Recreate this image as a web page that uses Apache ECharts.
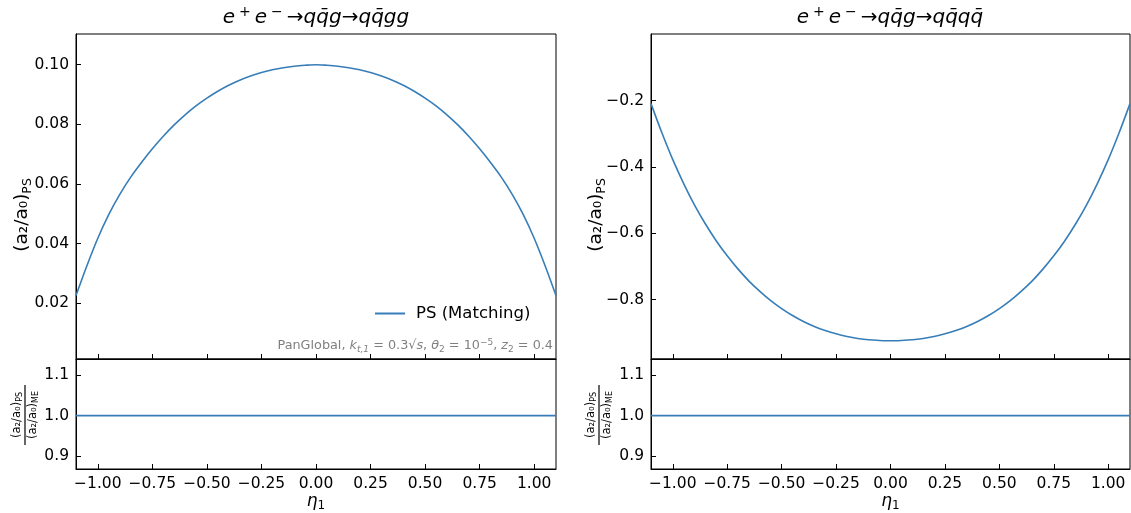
<!DOCTYPE html>
<html>
<head>
<meta charset="utf-8">
<script src="https://cdn.jsdelivr.net/npm/echarts@6/dist/echarts.min.js"></script>
<style>html,body{margin:0;padding:0;background:#fff;}#c{width:1131px;height:513px;}</style>
</head>
<body>
<div id="c"></div>
<script>
const eta = [-1.1,-1.05,-1.0,-0.95,-0.9,-0.85,-0.8,-0.75,-0.7,-0.65,-0.6,-0.55,-0.5,-0.45,-0.4,-0.35,-0.3,-0.25,-0.2,-0.15,-0.1,-0.05,0.0,0.05,0.1,0.15,0.2,0.25,0.3,0.35,0.4,0.45,0.5,0.55,0.6,0.65,0.7,0.75,0.8,0.85,0.9,0.95,1.0,1.05,1.1];
const psGG = [0.0226,0.0326,0.0418,0.0497,0.0564,0.0622,0.0672,0.0718,0.0760,0.0798,0.0832,0.0862,0.0888,0.0911,0.0931,0.0948,0.0962,0.0974,0.0983,0.0990,0.0995,0.0998,0.1000,0.0998,0.0995,0.0990,0.0983,0.0974,0.0962,0.0948,0.0931,0.0911,0.0888,0.0862,0.0832,0.0798,0.0760,0.0718,0.0672,0.0622,0.0564,0.0497,0.0418,0.0326,0.0226];
const psQQ = [-0.209,-0.297,-0.378,-0.450,-0.515,-0.572,-0.623,-0.668,-0.708,-0.744,-0.775,-0.803,-0.827,-0.848,-0.866,-0.881,-0.893,-0.903,-0.911,-0.917,-0.921,-0.923,-0.924,-0.923,-0.921,-0.917,-0.911,-0.903,-0.893,-0.881,-0.866,-0.848,-0.827,-0.803,-0.775,-0.744,-0.708,-0.668,-0.623,-0.572,-0.515,-0.450,-0.378,-0.297,-0.209];
const ratioGG = [1,1,1,1,1,1,1,1,1,1,1,1,1,1,1,1,1,1,1,1,1,1,1,1,1,1,1,1,1,1,1,1,1,1,1,1,1,1,1,1,1,1,1,1,1];
const ratioQQ = [1,1,1,1,1,1,1,1,1,1,1,1,1,1,1,1,1,1,1,1,1,1,1,1,1,1,1,1,1,1,1,1,1,1,1,1,1,1,1,1,1,1,1,1,1];
const xTicks = [-1.0,-0.75,-0.5,-0.25,0.0,0.25,0.5,0.75,1.0];
const yTicksGG = [0.02,0.04,0.06,0.08,0.10];
const yTicksQQ = [-0.8,-0.6,-0.4,-0.2];
const yTicksRatio = [0.9,1.0,1.1];

const FONT = 'DejaVu Sans';
const BLUE = '#377eb8';
const pair = a => eta.map((x,i)=>[x,a[i]]);
const fmt = d => v => v.toFixed(d).replace('-', '\u2212');

function xAxis(gi, showLabels) {
  return {
    type:'value', gridIndex:gi, min:-1.1, max:1.1, position:'bottom',
    axisLine:{show:true, onZero:false, lineStyle:{color:'#000', width:1}}, splitLine:{show:false},
    axisTick:{show:true, inside:true, length:5, lineStyle:{color:'#000', width:1}, customValues:xTicks},
    axisLabel:{show:showLabels, customValues:xTicks, formatter:fmt(2), color:'#000', fontSize:15.5, fontFamily:FONT, margin:7},
    name: showLabels ? '{i|η}{s|1}' : '', nameLocation:'middle', nameGap:23,
    nameTextStyle:{rich:{i:{fontSize:17,fontStyle:'italic',fontFamily:FONT,color:'#000',lineHeight:20},
                         s:{fontSize:12,fontFamily:FONT,color:'#000',verticalAlign:'bottom',lineHeight:13}}}
  };
}
function yAxis(gi, min, max, ticks, d) {
  return {
    type:'value', gridIndex:gi, min:min, max:max, position:'left',
    axisLine:{show:true, onZero:false, lineStyle:{color:'#000', width:1}}, splitLine:{show:false},
    axisTick:{show:true, inside:true, length:5, lineStyle:{color:'#000', width:1}, customValues:ticks},
    axisLabel:{customValues:ticks, formatter:fmt(d), color:'#000', fontSize:15.5, fontFamily:FONT, margin:7}
  };
}
const gridBase = {show:true, borderColor:'#000', borderWidth:1, backgroundColor:'transparent', containLabel:false};

const mainRich = {
  n:{fontSize:18.5, fontFamily:FONT, fill:'#000', lineHeight:24},
  s:{fontSize:12.5, fontFamily:FONT, fill:'#000', lineHeight:13, verticalAlign:'bottom'}
};
const fracRich = {
  n:{fontSize:11.5, fontFamily:FONT, fill:'#000', lineHeight:14},
  s:{fontSize:8, fontFamily:FONT, fill:'#000', lineHeight:8, verticalAlign:'bottom'}
};
const titleRich = {
  i:{fontSize:20, fontFamily:FONT, fontStyle:'italic', fill:'#000', lineHeight:26},
  a:{fontSize:20, fontFamily:FONT, fill:'#000', lineHeight:26},
  p:{fontSize:14, fontFamily:FONT, fontStyle:'italic', fill:'#000', lineHeight:14, verticalAlign:'top', padding:[0,4,0,4]}
};
const annRich = {
  n:{fontSize:12.8, fontFamily:FONT, fill:'#808080', lineHeight:16},
  i:{fontSize:12.8, fontFamily:FONT, fontStyle:'italic', fill:'#808080', lineHeight:16},
  b:{fontSize:9, fontFamily:FONT, fontStyle:'italic', fill:'#808080', lineHeight:9, verticalAlign:'bottom'},
  c:{fontSize:9, fontFamily:FONT, fill:'#808080', lineHeight:9, verticalAlign:'bottom'},
  p:{fontSize:9, fontFamily:FONT, fill:'#808080', lineHeight:9, verticalAlign:'top'}
};

function frac(x, y) {
  return {
    type:'group', x:x, y:y, rotation:Math.PI/2,
    children:[
      {type:'text', x:0, y:-8, style:{text:'{n|(a₂/a₀)}{s|PS}', rich:fracRich, align:'center', verticalAlign:'middle'}},
      {type:'line', shape:{x1:-30, y1:0, x2:30, y2:0}, style:{stroke:'#000', lineWidth:1.2}},
      {type:'text', x:0, y:8, style:{text:'{n|(a₂/a₀)}{s|ME}', rich:fracRich, align:'center', verticalAlign:'middle'}}
    ]
  };
}

const chart = echarts.init(document.getElementById('c'), null, {renderer:'canvas'});
chart.setOption({
  backgroundColor:'#fff',
  animation:false,
  grid:[
    Object.assign({left:76, top:34, width:480, height:325}, gridBase),
    Object.assign({left:76, top:359, width:480, height:111}, gridBase),
    Object.assign({left:651, top:34, width:479, height:325}, gridBase),
    Object.assign({left:651, top:359, width:479, height:111}, gridBase)
  ],
  xAxis:[xAxis(0,false), xAxis(1,true), xAxis(2,false), xAxis(3,true)],
  yAxis:[
    yAxis(0, 0.0013, 0.1103, yTicksGG, 2),
    yAxis(1, 0.868, 1.14, yTicksRatio, 1),
    yAxis(2, -0.979, 0.001, yTicksQQ, 1),
    yAxis(3, 0.868, 1.14, yTicksRatio, 1)
  ],
  legend:{
    data:['PS (Matching)'], left:370, top:300, icon:'rect', itemWidth:30, itemHeight:2, itemGap:10,
    textStyle:{fontSize:16.5, fontFamily:FONT, color:'#000', padding:[0,0,0,6]}
  },
  series:[
    {name:'PS (Matching)', type:'line', xAxisIndex:0, yAxisIndex:0, data:pair(psGG), smooth:0.3, showSymbol:false, symbol:'none', lineStyle:{color:BLUE, width:1.6}, itemStyle:{color:BLUE}},
    {name:'ratio1', type:'line', xAxisIndex:1, yAxisIndex:1, data:pair(ratioGG), showSymbol:false, symbol:'none', lineStyle:{color:BLUE, width:1.6}},
    {name:'PS2', type:'line', xAxisIndex:2, yAxisIndex:2, data:pair(psQQ), smooth:0.3, showSymbol:false, symbol:'none', lineStyle:{color:BLUE, width:1.6}},
    {name:'ratio2', type:'line', xAxisIndex:3, yAxisIndex:3, data:pair(ratioQQ), showSymbol:false, symbol:'none', lineStyle:{color:BLUE, width:1.6}}
  ],
  graphic:[
    {type:'text', x:316, y:18, style:{text:'{i|e}{p|+}{i|e}{p|−}{a|→}{i|qq̄g}{a|→}{i|qq̄gg}', rich:titleRich, align:'center', verticalAlign:'middle'}},
    {type:'text', x:890, y:18, style:{text:'{i|e}{p|+}{i|e}{p|−}{a|→}{i|qq̄g}{a|→}{i|qq̄qq̄}', rich:titleRich, align:'center', verticalAlign:'middle'}},
    {type:'text', x:22, y:215, rotation:Math.PI/2, style:{text:'{n|(a₂/a₀)}{s|PS}', rich:mainRich, align:'center', verticalAlign:'middle'}},
    {type:'text', x:596, y:215, rotation:Math.PI/2, style:{text:'{n|(a₂/a₀)}{s|PS}', rich:mainRich, align:'center', verticalAlign:'middle'}},
    frac(25, 415),
    frac(599, 415),
    {type:'text', x:553, y:346, style:{text:'{n|PanGlobal, }{i|k}{b|t,1}{n| = 0.3√}{i|s}{n|, }{i|θ}{c|2}{n| = 10}{p|−5}{n|, }{i|z}{c|2}{n| = 0.4}', rich:annRich, align:'right', verticalAlign:'middle'}}
  ]
});
</script>
</body>
</html>
